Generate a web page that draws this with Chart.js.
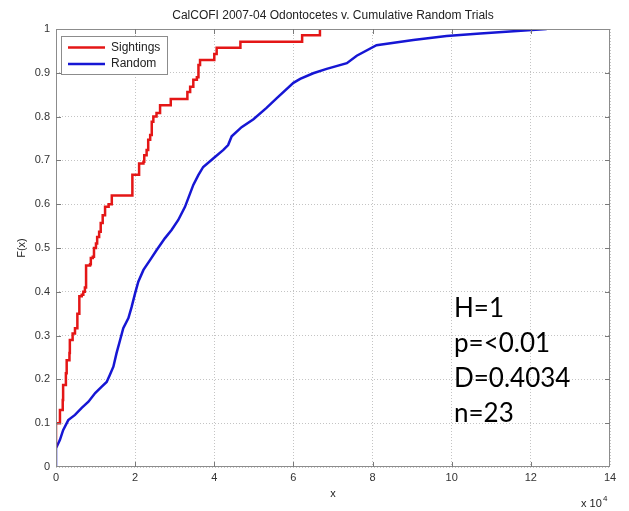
<!DOCTYPE html>
<html>
<head>
<meta charset="utf-8">
<script src="https://cdn.jsdelivr.net/npm/chart.js@4"></script>
<style>
  body { margin: 0; background: #fff; }
  #wrap { width: 629px; height: 511px; }
</style>
</head>
<body>
<div id="wrap"><canvas id="cdf" width="629" height="511"></canvas></div>
<script>
// empirical CDF of the sightings (x in units of 10^4)
var sightX = [0, 0, 0.10, 0.17, 0.18, 0.25, 0.27, 0.34, 0.35, 0.42, 0.48, 0.54, 0.59, 0.65, 0.69, 0.73, 0.76, 0.86, 0.88, 0.93, 0.96, 1.01, 1.04, 1.09, 1.13, 1.18, 1.24, 1.33, 1.41, 1.93, 2.10, 2.21, 2.23, 2.29, 2.33, 2.38, 2.42, 2.46, 2.54, 2.63, 2.90, 3.32, 3.39, 3.47, 3.56, 3.60, 3.64, 4.00, 4.06, 4.66, 6.22, 6.67]
var sightF = [0.045, 0.10, 0.13, 0.153, 0.187, 0.214, 0.244, 0.26, 0.29, 0.305, 0.317, 0.35, 0.39, 0.393, 0.40, 0.41, 0.46, 0.463, 0.477, 0.48, 0.50, 0.51, 0.525, 0.537, 0.557, 0.575, 0.594, 0.60, 0.62, 0.667, 0.693, 0.697, 0.712, 0.724, 0.747, 0.758, 0.788, 0.80, 0.808, 0.826, 0.84, 0.856, 0.868, 0.884, 0.89, 0.918, 0.929, 0.943, 0.957, 0.971, 0.986, 1.0]

// cumulative random trials
var randX = [0, 0, 0.10, 0.18, 0.31, 0.48, 0.65, 0.82, 0.99, 1.15, 1.28, 1.36, 1.45, 1.53, 1.62, 1.70, 1.83, 1.91, 2.00, 2.08, 2.21, 2.38, 2.54, 2.75, 2.92, 3.09, 3.26, 3.47, 3.60, 3.72, 3.98, 4.23, 4.35, 4.44, 4.69, 4.99, 5.32, 5.58, 6.00, 6.17, 6.50, 6.84, 7.35, 7.60, 8.10, 9.03, 9.87, 10.72, 11.56, 12.40]
var randF = [0, 0.043, 0.062, 0.084, 0.107, 0.119, 0.135, 0.149, 0.169, 0.183, 0.194, 0.21, 0.229, 0.26, 0.29, 0.317, 0.34, 0.365, 0.397, 0.423, 0.45, 0.473, 0.495, 0.522, 0.541, 0.564, 0.594, 0.644, 0.667, 0.685, 0.705, 0.724, 0.735, 0.755, 0.776, 0.794, 0.82, 0.842, 0.877, 0.886, 0.899, 0.909, 0.922, 0.939, 0.963, 0.975, 0.984, 0.99, 0.995, 1.0]

var seriesNames = ['Sightings', 'Random']
var seriesColors = ['rgb(228,22,22)', 'rgb(22,22,212)']
var titleText = 'CalCOFI 2007-04 Odontocetes v. Cumulative Random Trials'
var statLines = ['H=1', 'p=<0.01', 'D=0.4034', 'n=23']

function toPoints(xs, ys){
    var pts = []
    for (let i = 0; i < xs.length; i++) {
        pts.push({x: xs[i], y: ys[i]})
    }
    return pts
}

// matlab style: 0, 0.1 ... 1 (no trailing zeros)
function tickLabel(value){
    return String(Math.round(value * 10) / 10)
}

var tickFont = {family: 'Liberation Sans, Arial, sans-serif', size: 11}

// frame, inward ticks, legend and the text around the axes
const extras = {
    id: 'extras',
    afterDraw(chart){
        const c = chart.ctx
        const a = chart.chartArea
        const xs = chart.scales.x
        const ys = chart.scales.y
        c.save()

        c.strokeStyle = '#8c8c8c'
        c.lineWidth = 1
        c.strokeRect(a.left + 0.5, a.top + 0.5, a.right - a.left - 1, a.bottom - a.top - 1)

        c.strokeStyle = '#7a7a7a'
        c.beginPath()
        for (let v = 2; v < 14; v += 2) {
            const px = Math.round(xs.getPixelForValue(v)) + 0.5
            c.moveTo(px, a.bottom); c.lineTo(px, a.bottom - 5)
            c.moveTo(px, a.top); c.lineTo(px, a.top + 5)
        }
        for (let k = 1; k < 10; k++) {
            const py = Math.round(ys.getPixelForValue(k / 10)) + 0.5
            c.moveTo(a.left, py); c.lineTo(a.left + 5, py)
            c.moveTo(a.right, py); c.lineTo(a.right - 5, py)
        }
        c.stroke()

        // legend box
        c.fillStyle = '#fff'
        c.fillRect(61, 36, 106, 38)
        c.strokeStyle = '#8c8c8c'
        c.strokeRect(61.5, 36.5, 106, 38)
        c.font = '12px Liberation Sans, Arial, sans-serif'
        c.textBaseline = 'middle'
        c.textAlign = 'left'
        for (let i = 0; i < seriesNames.length; i++) {
            const ly = 47.5 + i * 16.5
            c.strokeStyle = seriesColors[i]
            c.lineWidth = 2.5
            c.beginPath(); c.moveTo(68, ly); c.lineTo(105, ly); c.stroke()
            c.fillStyle = '#222'
            c.fillText(seriesNames[i], 111, ly)
        }

        // title and axis labels
        c.fillStyle = '#222'
        c.textAlign = 'center'
        c.font = '12px Liberation Sans, Arial, sans-serif'
        c.fillText(titleText, (a.left + a.right) / 2, 16)
        c.font = '11px Liberation Sans, Arial, sans-serif'
        c.fillText('x', (a.left + a.right) / 2, 494)
        c.textAlign = 'left'
        c.fillText('x 10', 581, 504)
        c.font = '8px Liberation Sans, Arial, sans-serif'
        c.fillText('4', 603, 499)
        c.save()
        c.translate(22, (a.top + a.bottom) / 2)
        c.rotate(-Math.PI / 2)
        c.textAlign = 'center'
        c.font = '11px Liberation Sans, Arial, sans-serif'
        c.fillText('F(x)', 0, 0)
        c.restore()

        // test statistics
        c.fillStyle = '#000'
        c.textAlign = 'left'
        c.textBaseline = 'alphabetic'
        c.font = '26px Lato, Open Sans, sans-serif'
        for (let i = 0; i < statLines.length; i++) {
            c.fillText(statLines[i], 454, 317 + i * 35)
        }
        c.restore()
    }
}

const ctx = document.getElementById('cdf').getContext('2d')
const cdfChart = new Chart(ctx, {
    type: 'line',
    data: {
        datasets: [{
            label: seriesNames[0],
            data: toPoints(sightX, sightF),
            borderColor: seriesColors[0],
            borderWidth: 2.5,
            pointRadius: 0,
            stepped: 'before',
            fill: false
        }, {
            label: seriesNames[1],
            data: toPoints(randX, randF),
            borderColor: seriesColors[1],
            borderWidth: 2.5,
            pointRadius: 0,
            tension: 0,
            fill: false
        }]
    },
    options: {
        responsive: false,
        animation: false,
        events: [],
        layout: {padding: {top: 29, right: 19, left: 0, bottom: 0}},
        plugins: {legend: {display: false}, tooltip: {enabled: false}},
        scales: {
            x: {
                type: 'linear',
                min: 0,
                max: 14,
                afterFit: (s) => { s.height = 44 },
                ticks: {stepSize: 2, font: tickFont, color: '#333', padding: 4, maxRotation: 0, callback: tickLabel},
                grid: {color: '#c4c4c4', drawTicks: false, tickLength: 0},
                border: {display: false, dash: [1, 2]}
            },
            y: {
                type: 'linear',
                min: 0,
                max: 1,
                afterFit: (s) => { s.width = 56 },
                ticks: {stepSize: 0.1, font: tickFont, color: '#333', padding: 6, callback: tickLabel},
                grid: {color: '#c4c4c4', drawTicks: false, tickLength: 0},
                border: {display: false, dash: [1, 2]}
            }
        }
    },
    plugins: [extras]
})
</script>
</body>
</html>
